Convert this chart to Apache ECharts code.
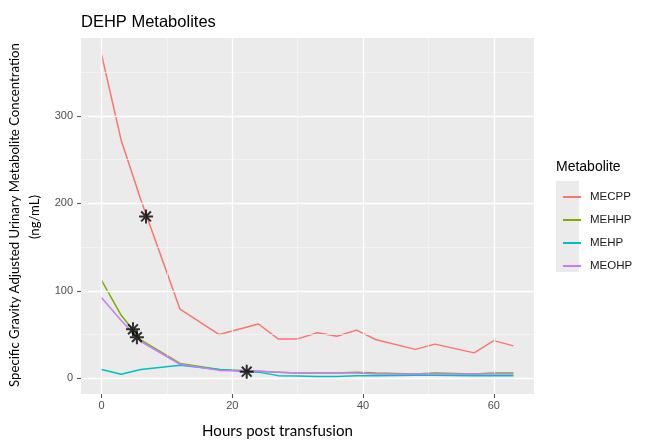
<!DOCTYPE html>
<html><head><meta charset="utf-8">
<script src="https://cdn.jsdelivr.net/npm/echarts@6/dist/echarts.min.js"></script>
<style>html,body{margin:0;padding:0;background:#fff}#c{width:659px;height:444px}</style>
</head><body><div id="c"></div>
<script>
// ---- data ----
const hours = [0, 3, 6, 12, 18, 24, 27, 30, 33, 36, 39, 42, 48, 51, 57, 60, 63];
const mecpp = [370, 272, 204, 79, 50, 62, 45, 45, 52, 48, 55, 44, 33, 39, 29, 43, 37];
const mehhp = [112, 72, 44, 17, 10, 8, 7, 6, 6, 6, 7, 6, 5, 6, 5, 6, 6];
const mehp  = [10, 4.6, 10, 15, 10, 7, 3, 2.5, 2, 2, 3, 3, 3.5, 3.5, 3, 3, 3];
const meohp = [92, 66, 42, 16, 9, 8, 7, 6, 6, 6, 6, 5, 5, 5, 5, 5, 5];
const starHours = [6.8, 4.8, 5.4, 22.2];
const starLevels = [185, 56, 47, 7.5];
const seriesNames = ['MECPP', 'MEHHP', 'MEHP', 'MEOHP'];
const xTicks = [0, 20, 40, 60];
const xMinor = [10, 30, 50];
const yTicks = [0, 100, 200, 300];
const yMinor = [50, 150, 250, 350];
const titleText = 'DEHP Metabolites';
const legendTitle = 'Metabolite';
const yTitle1 = 'Specific Gravity Adjusted Urinary Metabolite Concentration';
const yTitle2 = '(ng/mL)';
const xTitle = 'Hours post transfusion';

const colors = ['#F8766D', '#7CAE00', '#00BFC4', '#C77CFF'];
const values = [mecpp, mehhp, mehp, meohp];

function fit(text, family, target, base) {
  const ctx = document.createElement('canvas').getContext('2d');
  ctx.font = base + 'px ' + family;
  const w = ctx.measureText(text).width;
  return base * target / w;
}
const yTitleFont = '"Lato", "Liberation Sans", sans-serif';
const yTitleSize = fit(yTitle1, yTitleFont, 344, 14);
const xTitleSize = fit(xTitle, yTitleFont, 151, 15);

const chart = echarts.init(document.getElementById('c'), null, {renderer: 'canvas'});

const gridLines = [];
yTicks.forEach(v => gridLines.push({yAxis: v, lineStyle: {color: '#ffffff', width: 1.3, type: 'solid'}}));
yMinor.forEach(v => gridLines.push({yAxis: v, lineStyle: {color: '#f7f7f7', width: 0.7, type: 'solid'}}));
xTicks.forEach(v => gridLines.push({xAxis: v, lineStyle: {color: '#ffffff', width: 1.3, type: 'solid'}}));
xMinor.forEach(v => gridLines.push({xAxis: v, lineStyle: {color: '#f7f7f7', width: 0.7, type: 'solid'}}));

const series = [{
  type: 'line', name: '_grid', data: [], z: 1, silent: true,
  markLine: {silent: true, symbol: ['none', 'none'], animation: false,
    label: {show: false}, emphasis: {disabled: true}, data: gridLines}
}];
seriesNames.forEach((n, i) => {
  series.push({
    type: 'line', name: n, z: 3 + i,
    data: hours.map((h, j) => [h, values[i][j]]),
    symbol: 'none', showSymbol: false,
    lineStyle: {color: colors[i], width: 1.5},
    itemStyle: {color: colors[i]},
    animation: false
  });
});
series.push({
  type: 'scatter', name: '_stars', z: 10,
  data: starHours.map((h, j) => [h, starLevels[j]]),
  symbol: 'path://M10,0L10,20M0,10L20,10M3,3L17,17M17,3L3,17',
  symbolSize: 14,
  itemStyle: {color: 'none', borderColor: '#000', borderWidth: 2},
  animation: false
});

const tickStyle = {show: true, inside: false, length: 4, lineStyle: {color: '#555', width: 1.1}};
const hiddenLine = {show: true, onZero: false, lineStyle: {color: 'rgba(0,0,0,0)', width: 0}};

chart.setOption({
  backgroundColor: '#ffffff',
  animation: false,
  grid: {left: 81, right: 125, top: 38, bottom: 50, show: true,
    backgroundColor: '#ebebeb', borderWidth: 0, containLabel: false},
  xAxis: {
    type: 'value', min: -3.15, max: 66.15,
    axisLine: hiddenLine,
    splitLine: {show: false},
    axisTick: Object.assign({customValues: xTicks}, tickStyle),
    axisLabel: {show: true, customValues: xTicks, margin: 6, color: '#4d4d4d', fontSize: 11,
      fontFamily: '"Liberation Sans", Arial, sans-serif'}
  },
  yAxis: {
    type: 'value', min: -18, max: 389,
    axisLine: hiddenLine,
    splitLine: {show: false},
    axisTick: Object.assign({customValues: yTicks}, tickStyle),
    axisLabel: {show: true, customValues: yTicks, margin: 8, color: '#4d4d4d', fontSize: 11,
      fontFamily: '"Liberation Sans", Arial, sans-serif'}
  },
  legend: {
    show: true, orient: 'vertical', left: 558, top: 185,
    data: seriesNames, icon: 'rect', itemWidth: 18, itemHeight: 2, itemGap: 9,
    textStyle: {color: '#1a1a1a', fontSize: 11.5, lineHeight: 14,
      fontFamily: '"Liberation Sans", Arial, sans-serif', padding: [0, 0, 0, 4]},
    selectedMode: false
  },
  graphic: [
    {type: 'rect', left: 556, top: 181, shape: {width: 23, height: 91}, style: {fill: '#ebebeb'}, z: -1, silent: true},
    {type: 'text', x: 81, y: 22.5, style: {text: titleText, fill: '#000', fontSize: 16.5,
      fontFamily: '"Liberation Sans", Arial, sans-serif', textVerticalAlign: 'middle', textAlign: 'left'}},
    {type: 'text', x: 556, y: 167.5, style: {text: legendTitle, fill: '#000', fontSize: 14,
      fontFamily: '"Liberation Sans", Arial, sans-serif', textVerticalAlign: 'middle', textAlign: 'left'}},
    {type: 'text', x: 15, y: 215, rotation: Math.PI / 2, style: {text: yTitle1, fill: '#000', fontSize: yTitleSize,
      fontFamily: yTitleFont, textVerticalAlign: 'middle', textAlign: 'center'}},
    {type: 'text', x: 35, y: 217, rotation: Math.PI / 2, style: {text: yTitle2, fill: '#000', fontSize: yTitleSize,
      fontFamily: yTitleFont, textVerticalAlign: 'middle', textAlign: 'center'}},
    {type: 'text', x: 277.5, y: 431, style: {text: xTitle, fill: '#000', fontSize: xTitleSize,
      fontFamily: yTitleFont, textVerticalAlign: 'middle', textAlign: 'center'}}
  ],
  series: series
});
</script>
</body></html>
